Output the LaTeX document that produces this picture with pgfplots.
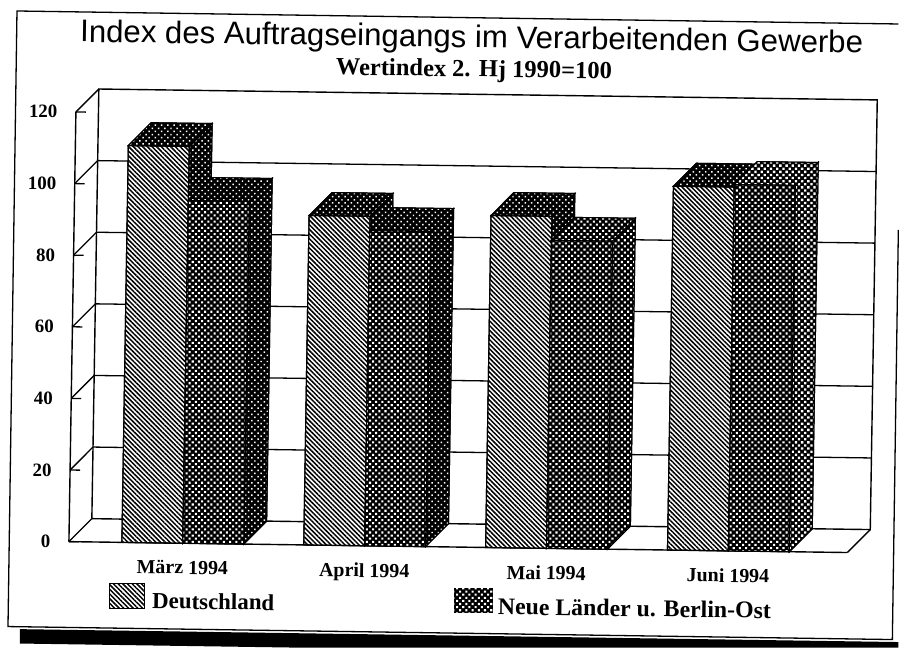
\documentclass[border=0pt]{standalone}
\usepackage{fontspec}
\setmainfont{Liberation Serif}
\newfontfamily\titlefont{Liberation Sans}
\usepackage{pgfplots}
\pgfplotsset{compat=1.18}
\usetikzlibrary{patterns.meta}
\tikzset{
  stripes/.style={fill=white,postaction={pattern={Lines[angle=-45,distance=3.3bp,line width=1.5bp]},pattern color=black}},
  dk/.style={fill=black,postaction={pattern={Dots[angle=45,distance=4.4bp,radius=1.05bp]},pattern color=white}},
  md/.style={fill=black,postaction={pattern={Dots[angle=45,distance=4.4bp,radius=1.45bp]},pattern color=white}},
  lt/.style={fill=black,postaction={pattern={Dots[angle=45,distance=4.4bp,radius=1.65bp]},pattern color=white}},
}
% one bar: x0, x1, value, front style, side style, top style
\newcommand\threedbar[6]{%
  \pgfmathsetmacro\xa{#1+0.124}\pgfmathsetmacro\xb{#2+0.124}\pgfmathsetmacro\vb{#3+6.5}%
  \addplot[black,line width=1.1bp,#5] coordinates {(#2,0) (#2,#3) (\xb,\vb) (\xb,6.5)} --cycle;
  \addplot[black,line width=1.1bp,#6] coordinates {(#1,#3) (#2,#3) (\xb,\vb) (\xa,\vb)} --cycle;
  \addplot[black,line width=1.1bp,#4] coordinates {(#1,0) (#1,#3) (#2,#3) (#2,0)} --cycle;
}
\begin{document}
\begin{tikzpicture}
\path (0,0) rectangle (899bp,-648bp);
\begin{scope}[x=1bp,y=-1bp]
  \fill[black] (20,629.6) -- (899,642.5) -- (899,648) -- (292,648) -- (20,644) -- cycle;
  \draw[line width=1.3bp] (899,24) -- (17,11) -- (8,627) -- (893,640) -- (899,230);
  \node[anchor=base west,rotate=-0.8,inner sep=0] at (80,42) {\titlefont\fontsize{31.3}{32}\selectfont Index des Auftragseingangs im Verarbeitenden Gewerbe};
  \node[anchor=base west,rotate=-0.8,inner sep=0] at (336,75) {\fontsize{24.6}{26}\selectfont\bfseries Wertindex 2. Hj 1990=100};
  \draw[line width=1.1bp,stripes] (110,584) rectangle (145,609);
  \draw[line width=1.1bp,md] (455,589) rectangle (493,613);
  \node[anchor=base west,rotate=-0.8,inner sep=0] at (152,609) {\fontsize{23}{24}\selectfont\bfseries Deutschland};
  \node[anchor=base west,rotate=-0.8,inner sep=0] at (498,615) {\fontsize{23.9}{25}\selectfont\bfseries Neue Länder u. Berlin-Ost};
\end{scope}
\begin{axis}[
  at={(182.9bp,-543.6bp)},anchor=origin,
  x={(182bp,-2.55bp)},y={(0.0583bp,3.583bp)},
  xmin=-0.626,xmax=3.654,ymin=0,ymax=120,
  axis x line=bottom,axis y line=left,
  axis line style={-,line width=1.4bp},
  clip=false,
  xtick={0,1,2,3},
  xticklabels={März 1994,April 1994,Mai 1994,Juni 1994},
  ytick={0,20,40,60,80,100,120},
  /pgf/number format/assume math mode=true,
  tick style={black,line width=1.3bp},
  ytick align=inside,
  major tick length=10bp,
  xtick style={draw=none},
  xticklabel style={font=\fontsize{20}{20}\selectfont\bfseries,rotate=-0.8,yshift=-9bp},
  yticklabel style={font=\fontsize{19}{19}\selectfont\bfseries,xshift=-15bp},
]
% back wall and left side wall
\addplot[black,line width=1.4bp,no markers] coordinates {(-0.502,6.5) (-0.502,126.5) (3.778,126.5) (3.778,6.5) (-0.502,6.5)};
\addplot[black,line width=1.3bp,no markers] coordinates {(-0.502,26.5) (3.778,26.5)};
\addplot[black,line width=1.3bp,no markers] coordinates {(-0.502,46.5) (3.778,46.5)};
\addplot[black,line width=1.3bp,no markers] coordinates {(-0.502,66.5) (3.778,66.5)};
\addplot[black,line width=1.3bp,no markers] coordinates {(-0.502,86.5) (3.778,86.5)};
\addplot[black,line width=1.3bp,no markers] coordinates {(-0.502,106.5) (3.778,106.5)};
\addplot[black,line width=1.3bp,no markers] coordinates {(-0.626,0) (-0.502,6.5)};
\addplot[black,line width=1.3bp,no markers] coordinates {(-0.626,20) (-0.502,26.5)};
\addplot[black,line width=1.3bp,no markers] coordinates {(-0.626,40) (-0.502,46.5)};
\addplot[black,line width=1.3bp,no markers] coordinates {(-0.626,60) (-0.502,66.5)};
\addplot[black,line width=1.3bp,no markers] coordinates {(-0.626,80) (-0.502,86.5)};
\addplot[black,line width=1.3bp,no markers] coordinates {(-0.626,100) (-0.502,106.5)};
\addplot[black,line width=1.3bp,no markers] coordinates {(-0.626,120) (-0.502,126.5)};
\addplot[black,line width=1.3bp,no markers] coordinates {(3.654,0) (3.778,6.5)};
% bars
\threedbar{-0.335}{0}{110.8}{stripes}{dk}{dk}
\threedbar{0}{0.335}{95.7}{md}{dk}{dk}
\threedbar{0.665}{1}{92}{stripes}{dk}{dk}
\threedbar{1}{1.335}{88}{md}{dk}{dk}
\threedbar{1.665}{2}{92.7}{stripes}{dk}{dk}
\threedbar{2}{2.335}{86}{md}{md}{md}
\threedbar{2.665}{3}{101.6}{stripes}{dk}{dk}
\threedbar{3}{3.335}{102.3}{md}{lt}{lt}
\end{axis}
\end{tikzpicture}
\end{document}
